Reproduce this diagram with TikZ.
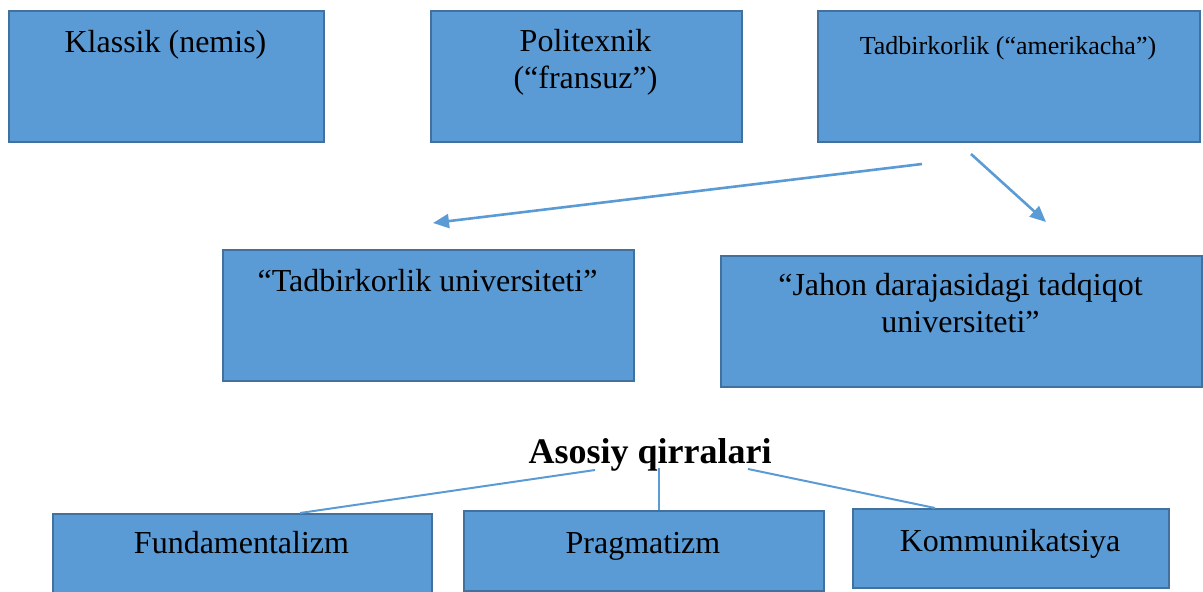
\documentclass[tikz,border=0pt]{standalone}
\usepackage{fontspec}
\setmainfont{Liberation Serif}
\usetikzlibrary{arrows.meta}
\definecolor{boxfill}{HTML}{5B9BD5}
\definecolor{boxline}{HTML}{41719C}
\definecolor{linkblue}{HTML}{5B9BD5}
\begin{document}
\begin{tikzpicture}[x=1pt,y=-1pt,
  box/.style={draw=boxline,fill=boxfill,line width=2pt,inner sep=0pt,anchor=north west},
  txt/.style={font=\fontsize{32}{37}\selectfont,inner sep=0pt,anchor=base,align=center},
  arr/.style={draw=linkblue,line width=2.6pt,-{Triangle[length=16pt,width=14pt]}},
  link/.style={draw=linkblue,line width=2pt}]
\useasboundingbox (0,0) rectangle (1203,592);
% top row
\node[box,minimum width=315pt,minimum height=131pt] (b1) at (8,10) {};
\node[box,minimum width=311pt,minimum height=131pt] (b2) at (430,10) {};
\node[box,minimum width=382pt,minimum height=131pt] (b3) at (817,10) {};
\node[txt] (t1) at (165.5,52) {Klassik (nemis)};
\node[txt] (t2) at (585.5,88) {Politexnik\\(“fransuz”)};
\node[txt,font=\fontsize{26}{30}\selectfont] (t3) at (1008,54) {Tadbirkorlik (“amerikacha”)};
% middle row
\node[box,minimum width=411pt,minimum height=131pt] (b4) at (222,249) {};
\node[box,minimum width=481pt,minimum height=131pt] (b5) at (720,255) {};
\node[txt] (t4) at (427.5,291) {“Tadbirkorlik universiteti”};
\node[txt] (t5) at (960.5,332) {“Jahon darajasidagi tadqiqot\\universiteti”};
\coordinate (s1) at (922,164);
\coordinate (e1) at (433,223);
\coordinate (s2) at (971,154);
\coordinate (e2) at (1046,222);
\draw[arr] (s1) -- (e1);
\draw[arr] (s2) -- (e2);
% bottom
\node[txt,font=\fontsize{36}{40}\bfseries\selectfont] (h) at (650,463) {Asosiy qirralari};
\node[box,minimum width=379pt,minimum height=100pt] (b6) at (52,513) {};
\node[box,minimum width=360pt,minimum height=80pt] (b7) at (463,510) {};
\node[box,minimum width=316pt,minimum height=79pt] (b8) at (852,508) {};
\node[txt] (t6) at (241.5,553) {Fundamentalizm};
\node[txt] (t7) at (643,553) {Pragmatizm};
\node[txt] (t8) at (1010,551) {Kommunikatsiya};
\coordinate (h1) at (595,470);
\coordinate (h2) at (659,468);
\coordinate (h3) at (748,469);
\coordinate (f1) at (300,513);
\coordinate (f2) at (659,510);
\coordinate (f3) at (935,508);
\draw[link] (h1) -- (f1);
\draw[link] (h2) -- (f2);
\draw[link] (h3) -- (f3);
\end{tikzpicture}
\end{document}
